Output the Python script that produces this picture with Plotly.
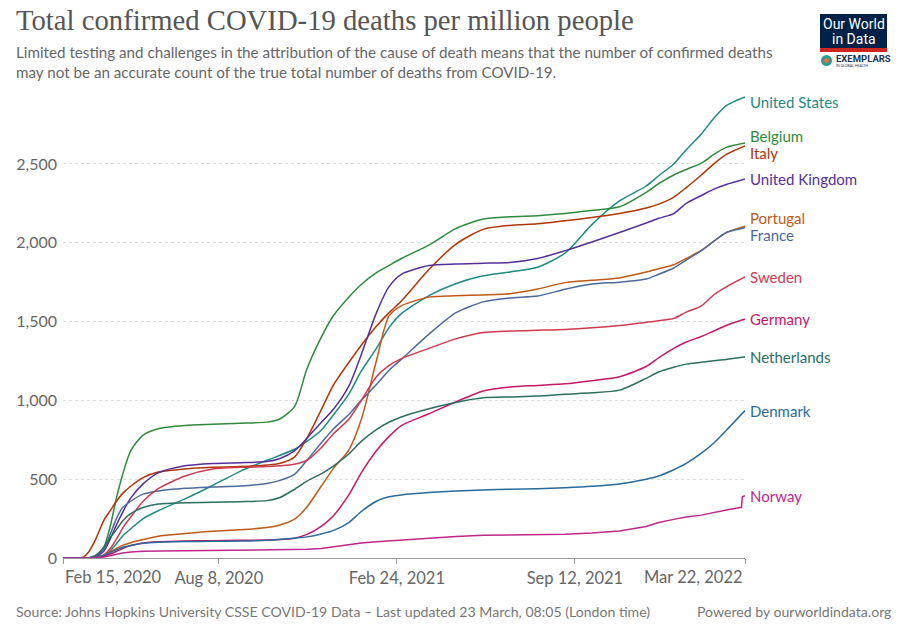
import plotly.graph_objects as go

# Total confirmed COVID-19 deaths per million people
text_font = "Lato, 'Open Sans', sans-serif"
serif_font = "'Liberation Serif', 'DejaVu Serif', serif"
narrow_font = "'Liberation Sans Narrow', Roboto, sans-serif"

dates = ["2020-02-15", "2020-03-01", "2020-03-08", "2020-03-15", "2020-03-22", "2020-04-01",
         "2020-04-08", "2020-04-15", "2020-04-22", "2020-05-01", "2020-05-15", "2020-06-01",
         "2020-07-01", "2020-08-01", "2020-09-01", "2020-10-01", "2020-10-15", "2020-11-01",
         "2020-11-15", "2020-12-01", "2020-12-15", "2021-01-01", "2021-01-15", "2021-02-01",
         "2021-02-15", "2021-03-01", "2021-04-01", "2021-05-01", "2021-06-01", "2021-07-01",
         "2021-08-01", "2021-09-01", "2021-10-01", "2021-11-01", "2021-12-01", "2021-12-15",
         "2022-01-01", "2022-01-15", "2022-02-01", "2022-02-15", "2022-03-01", "2022-03-22"]

united_states = [0, 0, 0, 0, 1, 15, 45, 90, 140, 185, 250, 300, 375, 460, 550, 620, 650, 690,
                 740, 810, 910, 1040, 1185, 1330, 1460, 1550, 1665, 1740, 1790, 1815, 1845, 1935,
                 2115, 2265, 2360, 2425, 2500, 2590, 2690, 2790, 2870, 2925]
belgium = [0, 0, 0, 0, 0, 70, 200, 380, 530, 680, 780, 820, 840, 848, 855, 862, 880, 960,
           1200, 1400, 1540, 1655, 1735, 1810, 1855, 1900, 1985, 2090, 2150, 2165, 2172, 2185,
           2205, 2228, 2320, 2375, 2430, 2465, 2505, 2560, 2605, 2633]
italy = [0, 0, 3, 40, 110, 240, 300, 360, 410, 455, 510, 545, 565, 575, 580, 590, 600, 640,
         760, 940, 1100, 1240, 1350, 1470, 1555, 1630, 1830, 1990, 2085, 2110, 2120, 2140,
         2160, 2185, 2220, 2245, 2290, 2350, 2430, 2500, 2560, 2614]
united_kingdom = [0, 0, 0, 1, 5, 45, 120, 210, 290, 380, 470, 540, 585, 600, 605, 612, 630, 680,
                  760, 860, 945, 1090, 1290, 1555, 1720, 1800, 1855, 1865, 1870, 1875, 1900, 1950,
                  2005, 2065, 2125, 2155, 2185, 2250, 2300, 2340, 2370, 2405]
portugal = [0, 0, 0, 0, 2, 18, 40, 60, 80, 97, 117, 138, 155, 170, 179, 193, 208, 246,
            324, 455, 570, 684, 878, 1251, 1534, 1600, 1655, 1664, 1669, 1676, 1706, 1747,
            1762, 1777, 1814, 1835, 1860, 1900, 1951, 2010, 2064, 2105]
france = [0, 0, 0, 1, 10, 60, 150, 250, 320, 360, 405, 425, 442, 450, 456, 473, 491, 530,
          620, 730, 820, 910, 1000, 1100, 1190, 1260, 1420, 1555, 1625, 1650, 1662, 1705,
          1738, 1750, 1770, 1800, 1840, 1890, 1950, 2010, 2065, 2095]
sweden = [0, 0, 0, 0, 2, 20, 60, 120, 190, 260, 360, 440, 520, 565, 575, 580, 585, 595,
          620, 700, 790, 880, 1000, 1150, 1220, 1265, 1330, 1390, 1430, 1440, 1445, 1450,
          1460, 1475, 1495, 1505, 1520, 1560, 1600, 1670, 1720, 1783]
germany = [0, 0, 0, 0, 1, 11, 25, 42, 60, 79, 95, 103, 108, 110, 112, 114, 117, 126,
           150, 201, 270, 400, 540, 680, 770, 840, 915, 990, 1060, 1085, 1095, 1105,
           1125, 1150, 1215, 1270, 1330, 1370, 1405, 1440, 1475, 1516]
netherlands = [0, 0, 0, 2, 15, 68, 130, 180, 235, 281, 320, 342, 351, 353, 357, 364, 382, 436,
               488, 534, 585, 660, 740, 815, 861, 895, 947, 987, 1016, 1022, 1027, 1039,
               1048, 1065, 1140, 1180, 1210, 1230, 1242, 1252, 1260, 1275]
denmark = [0, 0, 0, 0, 4, 18, 35, 52, 68, 79, 93, 100, 104, 106, 108, 112, 118, 126,
           134, 152, 175, 225, 295, 360, 388, 400, 415, 425, 432, 436, 439, 446,
           455, 470, 500, 520, 560, 600, 665, 730, 810, 935]
norway_dates = dates[:-1] + ["2022-03-18", "2022-03-19", "2022-03-22"]
norway = [0, 0, 0, 0, 2, 6, 15, 25, 32, 38, 43, 44, 46, 47, 49, 51, 51, 53,
          55, 61, 72, 82, 95, 103, 109, 114, 124, 137, 144, 147, 148, 151,
          159, 172, 200, 225, 245, 260, 272, 290, 305, 322, 388, 395]

series = [
    ("United States", dates, united_states, "#1f8a83"),
    ("Belgium", dates, belgium, "#2f8a3c"),
    ("Italy", dates, italy, "#b13507"),
    ("United Kingdom", dates, united_kingdom, "#55309a"),
    ("Portugal", dates, portugal, "#c05917"),
    ("France", dates, france, "#4c6a9c"),
    ("Sweden", dates, sweden, "#d03a50"),
    ("Germany", dates, germany, "#c8176a"),
    ("Netherlands", dates, netherlands, "#2c6e5f"),
    ("Denmark", dates, denmark, "#2a6a9a"),
    ("Norway", norway_dates, norway, "#c0268a"),
]

tick_dates = ["2020-02-15", "2020-08-08", "2021-02-24", "2021-09-12", "2022-03-22"]
tick_text = ["", "Aug 8, 2020", "Feb 24, 2021", "Sep 12, 2021", ""]
first_label, last_label = "Feb 15, 2020", "Mar 22, 2022"

# page geometry (px)
W, H = 900, 632
L, R, T, B = 63, 155, 93, 74
PW, PH = W - L - R, H - T - B
YMAX = 2950


def px_x(px):
    return (px - L) / PW


def px_y(py):
    return 1 - (py - T) / PH


fig = go.Figure()
for name, d, v, c in series:
    shape = "linear" if name == "Norway" else "spline"
    fig.add_trace(go.Scatter(x=d, y=v, mode="lines", name=name,
                             line=dict(color=c, width=1.5, shape=shape, smoothing=0.7)))

# end labels, pushed apart so they do not overlap
scale = PH / YMAX
spacing, half = 17, 8.5
items = sorted([(T + (YMAX - v[-1]) * scale, name, c) for name, d, v, c in series])
ys = [it[0] for it in items]
for _ in range(100):
    for i in range(1, len(ys)):
        gap = ys[i] - ys[i - 1]
        if gap < spacing:
            push = (spacing - gap) / 2
            ys[i - 1] -= push
            ys[i] += push
    ys[0] = max(ys[0], T + half)

annotations = []
for yp, (y0, name, c) in zip(ys, items):
    annotations.append(dict(x=dates[-1], y=YMAX - (yp - T) / scale, xref="x", yref="y",
                            text=name, showarrow=False, xanchor="left", yanchor="middle",
                            xshift=3, font=dict(family=text_font, size=15, color=c)))

tick_font = dict(family=text_font, size=16.5, color="#666666")
annotations += [
    dict(x=px_x(14), y=px_y(20), xref="paper", yref="paper", xanchor="left", yanchor="middle",
         text="Total confirmed COVID-19 deaths per million people", showarrow=False,
         font=dict(family=serif_font, size=28.7, color="#555555")),
    dict(x=px_x(14), y=px_y(62), xref="paper", yref="paper", xanchor="left", yanchor="middle",
         align="left", showarrow=False,
         text="Limited testing and challenges in the attribution of the cause of death means that the number of confirmed deaths<br>"
              "may not be an accurate count of the true total number of deaths from COVID-19.",
         font=dict(family=text_font, size=15.2, color="#666666")),
    # end tick labels are aligned to the axis ends, as in the original
    dict(x=tick_dates[0], y=0, xref="x", yref="paper", xanchor="left", yanchor="middle",
         yshift=-19, text=first_label, showarrow=False, font=tick_font),
    dict(x=tick_dates[-1], y=0, xref="x", yref="paper", xanchor="right", yanchor="middle",
         yshift=-19, text=last_label, showarrow=False, font=tick_font),
    dict(x=px_x(14), y=px_y(611), xref="paper", yref="paper", xanchor="left", yanchor="middle",
         text="Source: Johns Hopkins University CSSE COVID-19 Data – Last updated 23 March, 08:05 (London time)",
         showarrow=False, font=dict(family=text_font, size=14.1, color="#777777")),
    dict(x=px_x(894), y=px_y(611), xref="paper", yref="paper", xanchor="right", yanchor="middle",
         text="Powered by ourworldindata.org", showarrow=False,
         font=dict(family=text_font, size=14.1, color="#777777")),
    # logo text
    dict(x=px_x(853.5), y=px_y(24), xref="paper", yref="paper", xanchor="center", yanchor="middle",
         text="Our World", showarrow=False, font=dict(family=narrow_font, size=14, color="white")),
    dict(x=px_x(853.5), y=px_y(39), xref="paper", yref="paper", xanchor="center", yanchor="middle",
         text="in Data", showarrow=False, font=dict(family=narrow_font, size=14, color="white")),
    dict(x=px_x(834), y=px_y(59), xref="paper", yref="paper", xanchor="left", yanchor="middle",
         text="<b>EXEMPLARS</b>", showarrow=False,
         font=dict(family=narrow_font, size=9.5, color="#1d3557")),
    dict(x=px_x(834), y=px_y(66), xref="paper", yref="paper", xanchor="left", yanchor="middle",
         text="IN GLOBAL HEALTH", showarrow=False,
         font=dict(family=text_font, size=3.5, color="#1d3557")),
]

shapes = [
    dict(type="rect", xref="paper", yref="paper", x0=px_x(820), x1=px_x(887),
         y0=px_y(48), y1=px_y(14), fillcolor="#002147", line_width=0),
    dict(type="rect", xref="paper", yref="paper", x0=px_x(820), x1=px_x(887),
         y0=px_y(52), y1=px_y(48), fillcolor="#ce261e", line_width=0),
    dict(type="circle", xref="paper", yref="paper", x0=px_x(821), x1=px_x(832),
         y0=px_y(66), y1=px_y(55), fillcolor="#2a9d8f", line_width=0),
    dict(type="circle", xref="paper", yref="paper", x0=px_x(824), x1=px_x(829),
         y0=px_y(63), y1=px_y(58), fillcolor="#e76f51", line_width=0),
]

fig.update_layout(
    width=W, height=H,
    margin=dict(l=L, r=R, t=T, b=B),
    template="plotly_white",
    plot_bgcolor="white", paper_bgcolor="white",
    showlegend=False,
    font=dict(family=text_font, color="#666666"),
    annotations=annotations,
    shapes=shapes,
    xaxis=dict(type="date", range=[dates[0], dates[-1]],
               tickvals=tick_dates, ticktext=tick_text,
               showgrid=False, zeroline=False,
               showline=True, linecolor="#999999", linewidth=1,
               ticks="outside", ticklen=5, tickcolor="#999999",
               tickfont=tick_font),
    yaxis=dict(range=[0, YMAX], tickvals=[0, 500, 1000, 1500, 2000, 2500],
               tickformat=",", showgrid=True, gridcolor="#dddddd", griddash="3px,3px",
               zeroline=False, showline=False, ticks="",
               ticklabelstandoff=5,
               tickfont=dict(size=16, color="#666666")),
)

# drop the default body margin so the chart sits at the page origin
fig.write_html("out.html", config={"displayModeBar": False},
               post_script="document.body.style.margin='0px';")
